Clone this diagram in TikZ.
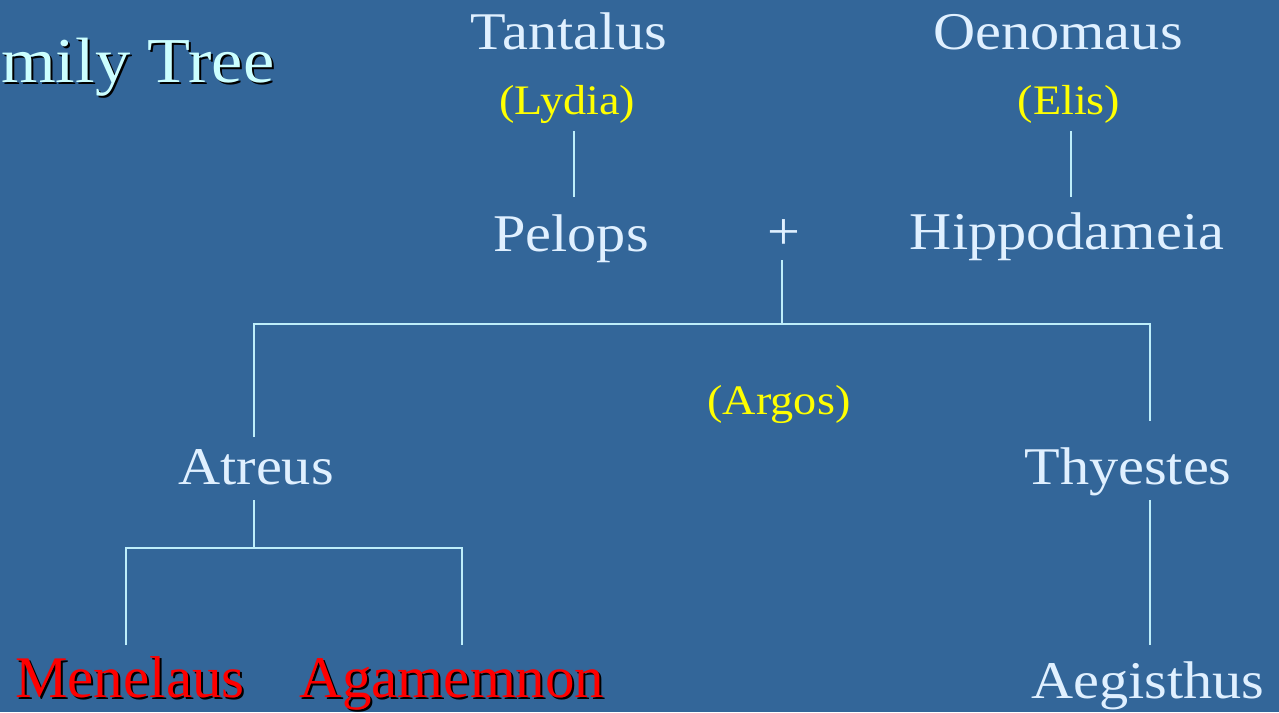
\documentclass[tikz,border=0pt]{standalone}
\usepackage{fontspec}
\setmainfont{Liberation Serif}
\newfontfamily\palfont[FakeStretch=1.1]{Liberation Serif}
\definecolor{bgc}{RGB}{51,102,153}
\definecolor{namec}{RGB}{224,240,255}
\definecolor{titlec}{RGB}{204,255,255}
\definecolor{placec}{RGB}{255,255,0}
\definecolor{linec}{RGB}{190,238,250}
\definecolor{redc}{RGB}{255,0,0}
\tikzset{
  person/.style={text=namec, font=\palfont\fontsize{53}{60}\selectfont, inner sep=0pt, anchor=base},
  place/.style={text=placec, font=\palfont\fontsize{42}{48}\selectfont, inner sep=0pt, anchor=base},
  heir/.style={text=redc, font=\fontsize{59}{66}\selectfont, inner sep=0pt, anchor=base},
  heirshadow/.style={text=black, font=\fontsize{59}{66}\selectfont, inner sep=0pt, anchor=base},
  titletext/.style={text=titlec, font=\palfont\fontsize{64}{72}\selectfont, inner sep=0pt, anchor=base west},
  titleshadow/.style={text=black, font=\palfont\fontsize{64}{72}\selectfont, inner sep=0pt, anchor=base west},
  conn/.style={draw=linec, line width=2.2pt}
}
\begin{document}
\begin{tikzpicture}[x=1pt,y=-1pt]
\fill[bgc] (0,0) rectangle (1279,712);
\useasboundingbox (0,0) rectangle (1279,712);

% title
\node[titleshadow] (titleS) at (3,84) {mily Tree};
\node[titletext] (title) at (1,82) {mily Tree};

% people
\node[person] (tantalus) at (569,49) {Tantalus};
\node[place] (lydia) at (567,114) {(Lydia)};
\node[person] (pelops) at (571,251) {Pelops};
\node[person] (plus) at (784,249) {+};
\node[person] (oenomaus) at (1058,49) {Oenomaus};
\node[place] (elis) at (1069,114) {(Elis)};
\node[person] (hippo) at (1067,249) {Hippodameia};
\node[place] (argos) at (779,414) {(Argos)};
\node[person] (atreus) at (256,484) {Atreus};
\node[person] (thyestes) at (1128,484) {Thyestes};
\node[person] (aegisthus) at (1148,698) {Aegisthus};

\node[heirshadow] (menelausS) at (132,699) {Menelaus};
\node[heir] (menelaus) at (130,697) {Menelaus};
\node[heirshadow] (agamemnonS) at (454,699) {Agamemnon};
\node[heir] (agamemnon) at (452,697) {Agamemnon};

% junction coordinates
\coordinate (lydiaB) at (574,131);
\coordinate (pelopsT) at (574,197);
\coordinate (elisB) at (1071,131);
\coordinate (hippoT) at (1071,197);
\coordinate (plusB) at (782,260);
\coordinate (mid) at (782,324);
\coordinate (leftJ) at (254,324);
\coordinate (rightJ) at (1150,324);
\coordinate (atreusT) at (254,437);
\coordinate (thyestesT) at (1150,421);
\coordinate (atreusB) at (254,500);
\coordinate (sonsJ) at (254,548);
\coordinate (menJ) at (126,548);
\coordinate (agaJ) at (462,548);
\coordinate (menT) at (126,645);
\coordinate (agaT) at (462,645);
\coordinate (thyB) at (1150,500);
\coordinate (aegT) at (1150,645);

% connectors
\draw[conn] (lydiaB) -- (pelopsT);
\draw[conn] (elisB) -- (hippoT);
\draw[conn] (plusB) -- (mid);
\draw[conn] (atreusT) -- (leftJ) -- (rightJ) -- (thyestesT);
\draw[conn] (atreusB) -- (sonsJ);
\draw[conn] (menT) -- (menJ) -- (agaJ) -- (agaT);
\draw[conn] (thyB) -- (aegT);
\end{tikzpicture}
\end{document}
